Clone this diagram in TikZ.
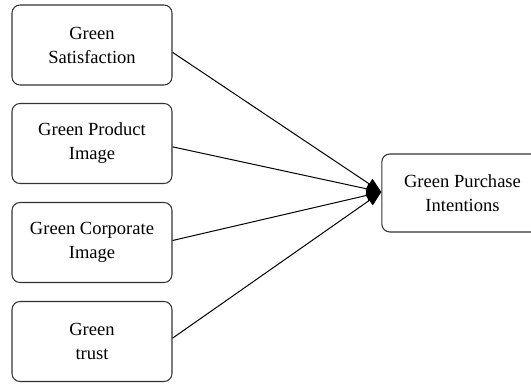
\documentclass[tikz,border=0pt]{standalone}
\usepackage{fontspec}
\setmainfont{Liberation Serif}
\usetikzlibrary{arrows.meta}
\begin{document}
\begin{tikzpicture}[x=0.75pt,y=-0.75pt,
  factor/.style={draw=black!80, line width=0.8pt, rounded corners=6pt,
    minimum width=120pt, minimum height=60pt, align=center,
    font=\fontsize{13.9}{18}\selectfont, inner sep=0pt},
  outcome/.style={factor, minimum width=121pt, minimum height=58.5pt},
  link/.style={draw=black, line width=0.75pt,
    -{Triangle[length=11pt,width=9pt]}}]
\useasboundingbox (0,0) rectangle (531,385);
% predictor boxes
\node[factor] (sat)  at (92,45)    {Green\\Satisfaction};
\node[factor] (img)  at (92,143.5) {Green Product\\Image};
\node[factor] (corp) at (92,242.5) {Green Corporate\\Image};
\node[factor] (tru)  at (92,341.5) {Green\\trust};
% outcome box
\node[outcome] (pi) at (462.5,193) {Green Purchase\\Intentions};
% line start points on the right edges
\coordinate (s1) at ([yshift=-5.5pt]sat.east);
\coordinate (s2) at ([yshift=-2.5pt]img.east);
\coordinate (s3) at ([yshift=1.5pt]corp.east);
\coordinate (s4) at ([yshift=2.5pt]tru.east);
\coordinate (t) at ([yshift=0.75pt]pi.west);
\foreach \s in {s1,s2,s3,s4} \draw[link] (\s) -- (t);
\end{tikzpicture}
\end{document}
